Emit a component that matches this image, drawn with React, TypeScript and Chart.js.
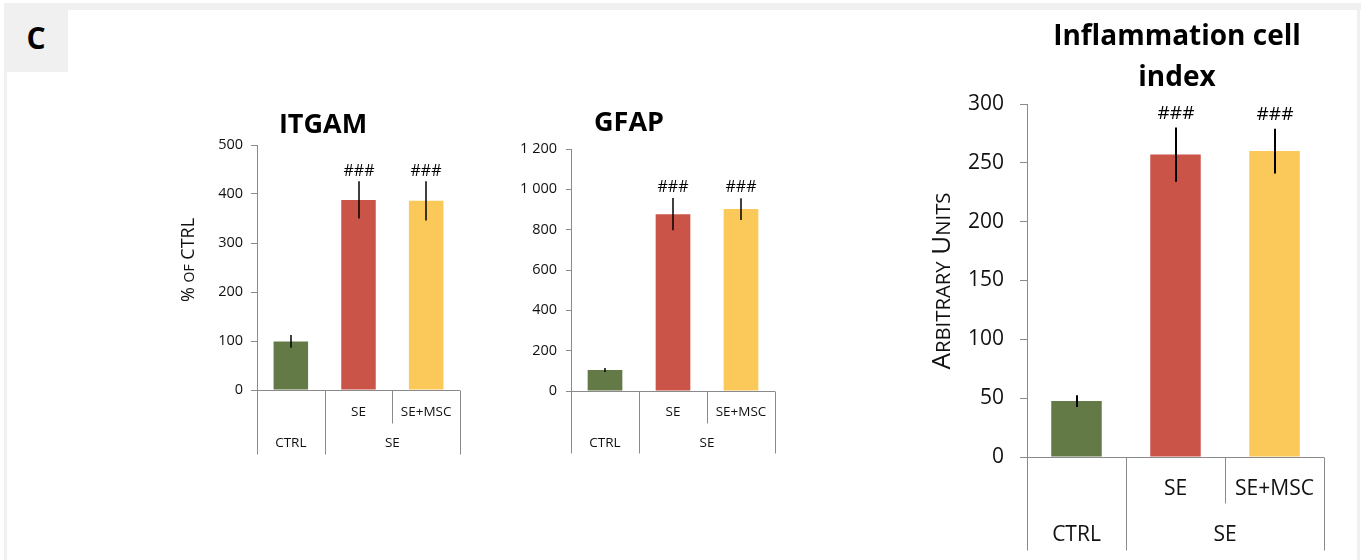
import React, { useEffect, useRef } from 'react';
import { Chart, registerables } from 'chart.js';

Chart.register(...registerables);

const FONT = "'Open Sans', 'Noto Sans', sans-serif";
const AXIS = '#8a8a8a';
const TEXT = '#111111';

// ---- data ----
const subLabels = ['', 'SE', 'SE+MSC'];
const groupLabels = ['CTRL', 'SE'];
const groupSpans = [1, 2];
const barColors = ['#637a47', '#cb5449', '#fac95a'];
const sigLabels = ['', '###', '###'];

const itgamTitle = ['ITGAM'];
const itgamValues = [99, 388, 386];
const itgamErrors = [13, 38, 40];
const itgamTicks = { min: 0, max: 500, step: 100 };
const itgamAxisTitle = '% of CTRL';

const gfapTitle = ['GFAP'];
const gfapValues = [104, 877, 902];
const gfapErrors = [10, 80, 54];
const gfapTicks = { min: 0, max: 1200, step: 200 };

const inflTitle = ['Inflammation cell', 'index'];
const inflValues = [47.5, 257, 260];
const inflErrors = [5, 23, 19];
const inflTicks = { min: 0, max: 300, step: 50 };
const inflAxisTitle = 'Arbitrary Units';

const fmt = (v: number) => String(v).replace(/\B(?=(\d{3})+(?!\d))/g, ' ');

type Spec = {
  left: number; top: number; w: number; h: number;
  padding: { left: number; top: number; right: number; bottom: number };
  yWidth: number;
  values: number[]; errors: number[];
  ticks: { min: number; max: number; step: number };
  title: string[]; titleX: number; titleY: number; titleSize: number; titleLine: number;
  axisTitle?: string; axisTitleX?: number; axisTitleY?: number; axisTitleSize?: number;
  tickSize: number; tickLen: number; tickPad: number;
  catSize: number; sigSize: number; sigGap: number; errWidth: number;
  subOffset: number; groupOffset: number; fullLen: number; midLen: number;
};

const specs: Spec[] = [
  {
    left: 150, top: 95, w: 330, h: 375,
    padding: { left: 57, top: 50, right: 20, bottom: 80 }, yWidth: 50,
    values: itgamValues, errors: itgamErrors, ticks: itgamTicks,
    title: itgamTitle, titleX: 173, titleY: 30, titleSize: 27, titleLine: 34,
    axisTitle: itgamAxisTitle, axisTitleX: 38, axisTitleY: 165, axisTitleSize: 18,
    tickSize: 14.5, tickLen: 6, tickPad: 8,
    catSize: 13.5, sigSize: 16, sigGap: 10, errWidth: 1.5,
    subOffset: 22, groupOffset: 53, fullLen: 64, midLen: 33,
  },
  {
    left: 480, top: 95, w: 300, h: 375,
    padding: { left: 41, top: 54, right: 5, bottom: 79 }, yWidth: 50,
    values: gfapValues, errors: gfapErrors, ticks: gfapTicks,
    title: gfapTitle, titleX: 149, titleY: 28, titleSize: 27, titleLine: 34,
    tickSize: 14.5, tickLen: 5, tickPad: 9,
    catSize: 13.5, sigSize: 16, sigGap: 11, errWidth: 1.5,
    subOffset: 21, groupOffset: 52, fullLen: 62, midLen: 32,
  },
  {
    left: 900, top: 0, w: 455, h: 560,
    padding: { left: 67, top: 104, right: 31, bottom: 103 }, yWidth: 60,
    values: inflValues, errors: inflErrors, ticks: inflTicks,
    title: inflTitle, titleX: 277, titleY: 37, titleSize: 28, titleLine: 41,
    axisTitle: inflAxisTitle, axisTitleX: 41, axisTitleY: 281, axisTitleSize: 26,
    tickSize: 21, tickLen: 7, tickPad: 16,
    catSize: 21, sigSize: 19, sigGap: 14, errWidth: 2,
    subOffset: 32, groupOffset: 78, fullLen: 93, midLen: 46,
  },
];

// draw text in small capitals: lower-case letters become smaller capitals
function drawSmallCaps(ctx: CanvasRenderingContext2D, text: string, size: number, ratio: number) {
  const runs: { t: string; small: boolean }[] = [];
  for (const ch of text) {
    const small = ch !== ch.toUpperCase();
    const last = runs[runs.length - 1];
    if (last && last.small === small) last.t += ch;
    else runs.push({ t: ch, small });
  }
  const widths = runs.map((r) => {
    ctx.font = `${r.small ? size * ratio : size}px ${FONT}`;
    return ctx.measureText(r.t.toUpperCase()).width;
  });
  const total = widths.reduce((a, b) => a + b, 0);
  let x = -total / 2;
  ctx.textAlign = 'left';
  ctx.textBaseline = 'alphabetic';
  const base = size * 0.357;
  runs.forEach((r, i) => {
    ctx.font = `${r.small ? size * ratio : size}px ${FONT}`;
    ctx.fillText(r.t.toUpperCase(), x, base);
    x += widths[i];
  });
}

function makeDecor(s: Spec) {
  return {
    id: 'decor',
    afterDatasetsDraw(chart: any) {
      const { ctx } = chart;
      const y = chart.scales.y;
      const meta = chart.getDatasetMeta(0);
      ctx.save();
      s.values.forEach((v, i) => {
        const e = s.errors[i];
        const px = Math.round(meta.data[i].x);
        const yTop = y.getPixelForValue(v + e);
        const yBot = y.getPixelForValue(v - e);
        ctx.strokeStyle = '#000';
        ctx.lineWidth = s.errWidth;
        ctx.beginPath();
        ctx.moveTo(px, yTop);
        ctx.lineTo(px, yBot);
        ctx.stroke();
        if (sigLabels[i]) {
          ctx.font = `${s.sigSize}px ${FONT}`;
          ctx.textAlign = 'center';
          ctx.textBaseline = 'middle';
          ctx.fillStyle = '#000';
          ctx.fillText(sigLabels[i], px, yTop - s.sigGap);
        }
      });
      ctx.restore();
    },
    afterDraw(chart: any) {
      const { ctx, chartArea } = chart;
      const x = chart.scales.x;
      const y = chart.scales.y;
      const y0 = Math.round(y.getPixelForValue(0)) + 0.5;
      const n = subLabels.length;
      const L = chartArea.left;
      const R = chartArea.right;
      const cw = (R - L) / n;
      ctx.save();
      ctx.strokeStyle = AXIS;
      ctx.lineWidth = 1;
      ctx.beginPath();
      ctx.moveTo(L, y0);
      ctx.lineTo(R, y0);
      ctx.stroke();
      const edges: number[] = [0];
      groupSpans.reduce((acc, sp) => { edges.push(acc + sp); return acc + sp; }, 0);
      for (let k = 0; k <= n; k++) {
        const xk = Math.round(L + k * cw) + 0.5;
        const len = edges.includes(k) ? s.fullLen : s.midLen;
        ctx.beginPath();
        ctx.moveTo(xk, y0);
        ctx.lineTo(xk, y0 + len);
        ctx.stroke();
      }
      ctx.fillStyle = TEXT;
      ctx.font = `${s.catSize}px ${FONT}`;
      ctx.textAlign = 'center';
      ctx.textBaseline = 'middle';
      subLabels.forEach((lab, i) => {
        if (lab) ctx.fillText(lab, x.getPixelForValue(i), y0 + s.subOffset);
      });
      let start = 0;
      groupLabels.forEach((g, j) => {
        const sp = groupSpans[j];
        ctx.fillText(g, L + (start + sp / 2) * cw, y0 + s.groupOffset);
        start += sp;
      });
      // title
      ctx.fillStyle = '#000';
      ctx.font = `bold ${s.titleSize}px ${FONT}`;
      s.title.forEach((t, i) => ctx.fillText(t, s.titleX, s.titleY + i * s.titleLine));
      // axis title
      if (s.axisTitle) {
        ctx.save();
        ctx.translate(s.axisTitleX!, s.axisTitleY!);
        ctx.rotate(-Math.PI / 2);
        ctx.fillStyle = TEXT;
        drawSmallCaps(ctx, s.axisTitle, s.axisTitleSize!, 0.78);
        ctx.restore();
      }
      ctx.restore();
    },
  };
}

function Panel({ s }: { s: Spec }) {
  const ref = useRef<HTMLCanvasElement | null>(null);
  useEffect(() => {
    if (!ref.current) return;
    const chart = new Chart(ref.current, {
      type: 'bar',
      data: {
        labels: subLabels,
        datasets: [{
          data: s.values,
          backgroundColor: barColors,
          borderWidth: 0,
          categoryPercentage: 1,
          barPercentage: 0.51,
        }],
      },
      options: {
        animation: false,
        responsive: false,
        devicePixelRatio: 1,
        layout: { padding: s.padding },
        plugins: { legend: { display: false }, tooltip: { enabled: false }, title: { display: false } },
        scales: {
          x: { display: false },
          y: {
            min: s.ticks.min,
            max: s.ticks.max,
            ticks: {
              stepSize: s.ticks.step,
              color: TEXT,
              padding: s.tickPad,
              font: { family: FONT, size: s.tickSize },
              callback: (v: any) => fmt(Number(v)),
            },
            grid: { drawOnChartArea: false, drawTicks: true, tickLength: s.tickLen, color: AXIS },
            border: { color: AXIS, width: 1 },
            afterFit: (scale: any) => { scale.width = s.yWidth; },
          },
        },
      } as any,
      plugins: [makeDecor(s)],
    });
    return () => chart.destroy();
  }, [s]);
  return (
    <canvas
      ref={ref}
      width={s.w}
      height={s.h}
      style={{ position: 'absolute', left: s.left, top: s.top, width: s.w, height: s.h }}
    />
  );
}

export default function App() {
  const gray = '#f0f0f0';
  return (
    <div style={{ position: 'fixed', left: 0, top: 0, width: 1365, height: 560, background: '#fff', overflow: 'hidden' }}>
      <div style={{ position: 'absolute', left: 4, top: 3, width: 1357, height: 7, background: gray }} />
      <div style={{ position: 'absolute', left: 4, top: 3, width: 3, height: 557, background: gray }} />
      <div style={{ position: 'absolute', left: 1357, top: 3, width: 3, height: 557, background: gray }} />
      <div style={{
        position: 'absolute', left: 4, top: 3, width: 64, height: 69, background: gray,
        display: 'flex', alignItems: 'center', justifyContent: 'center',
        fontFamily: FONT, fontWeight: 700, fontSize: 30, color: '#000', lineHeight: 1,
      }}>C</div>
      {specs.map((s, i) => <Panel key={i} s={s} />)}
    </div>
  );
}
